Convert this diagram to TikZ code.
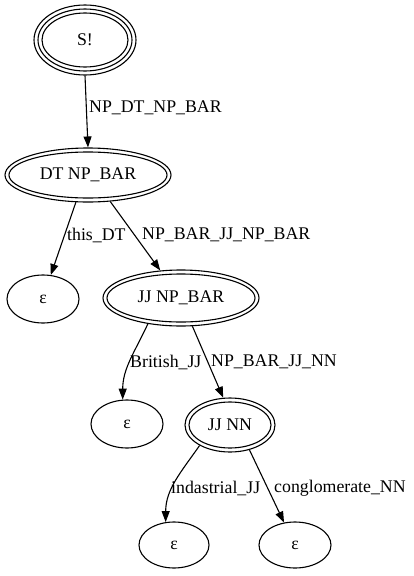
\documentclass[tikz,border=0pt]{standalone}
\usepackage{fontspec}
\setmainfont{Liberation Serif}
\usetikzlibrary{arrows.meta,shapes.geometric}
\begin{document}
\begin{tikzpicture}[x=1pt,y=-1pt,
  every node/.style={font=\fontsize{17.8}{20}\selectfont},
  ell/.style={draw,ellipse,line width=1.1pt,inner sep=0pt},
  lbl/.style={inner sep=0pt,anchor=west},
  edge/.style={draw,line width=1.1pt,-{Triangle[length=11pt,width=8pt]}}]
\useasboundingbox (0,0) rectangle (414,576);
% S!
\node[ell,minimum width=102pt,minimum height=70pt] (s) at (85,40) {};
\node[ell,minimum width=94pt,minimum height=62pt] (s2) at (85,40) {};
\node[ell,minimum width=86pt,minimum height=54pt] (s3) at (85,40) {S!};
% DT NP_BAR
\node[ell,minimum width=166pt,minimum height=54pt] (dt) at (88,175) {};
\node[ell,minimum width=158pt,minimum height=46pt] (dt2) at (88,175) {DT NP\_BAR};
% eps 1
\node[ell,minimum width=72pt,minimum height=48pt] (e1) at (43,299) {ε};
% JJ NP_BAR
\node[ell,minimum width=156pt,minimum height=56pt] (jj) at (181,298) {};
\node[ell,minimum width=148pt,minimum height=48pt] (jj2) at (181,298) {JJ NP\_BAR};
% eps 2
\node[ell,minimum width=72pt,minimum height=48pt] (e2) at (127,424) {ε};
% JJ NN
\node[ell,minimum width=90pt,minimum height=54pt] (nn) at (230,425) {};
\node[ell,minimum width=82pt,minimum height=46pt] (nn2) at (230,425) {JJ NN};
% eps 3,4
\node[ell,minimum width=70pt,minimum height=46pt] (e3) at (174,545) {ε};
\node[ell,minimum width=72pt,minimum height=46pt] (e4) at (295,545) {ε};
% edges
\draw[edge] (s.south) -- (dt.north);
\draw[edge] (dt.246) -- (e1.72);
\draw[edge] (dt.310) -- (jj.127);
\draw[edge] (jj.218) to[out=245,in=90] (e2.100);
\draw[edge] (jj.292) -- (nn.104);
\draw[edge] (nn.214) to[out=235,in=90] (e3.110);
\draw[edge] (nn.308) -- (e4.116);
% labels
\node[lbl] (l1) at (89,108) {NP\_DT\_NP\_BAR};
\node[lbl] (l2) at (67,235) {this\_DT};
\node[lbl] (l3) at (142,235) {NP\_BAR\_JJ\_NP\_BAR};
\node[lbl] (l4) at (130,362) {British\_JJ};
\node[lbl] (l5) at (211,362) {NP\_BAR\_JJ\_NN};
\node[lbl] (l6) at (171,488) {indastrial\_JJ};
\node[lbl] (l7) at (274,488) {conglomerate\_NN};
\end{tikzpicture}
\end{document}
